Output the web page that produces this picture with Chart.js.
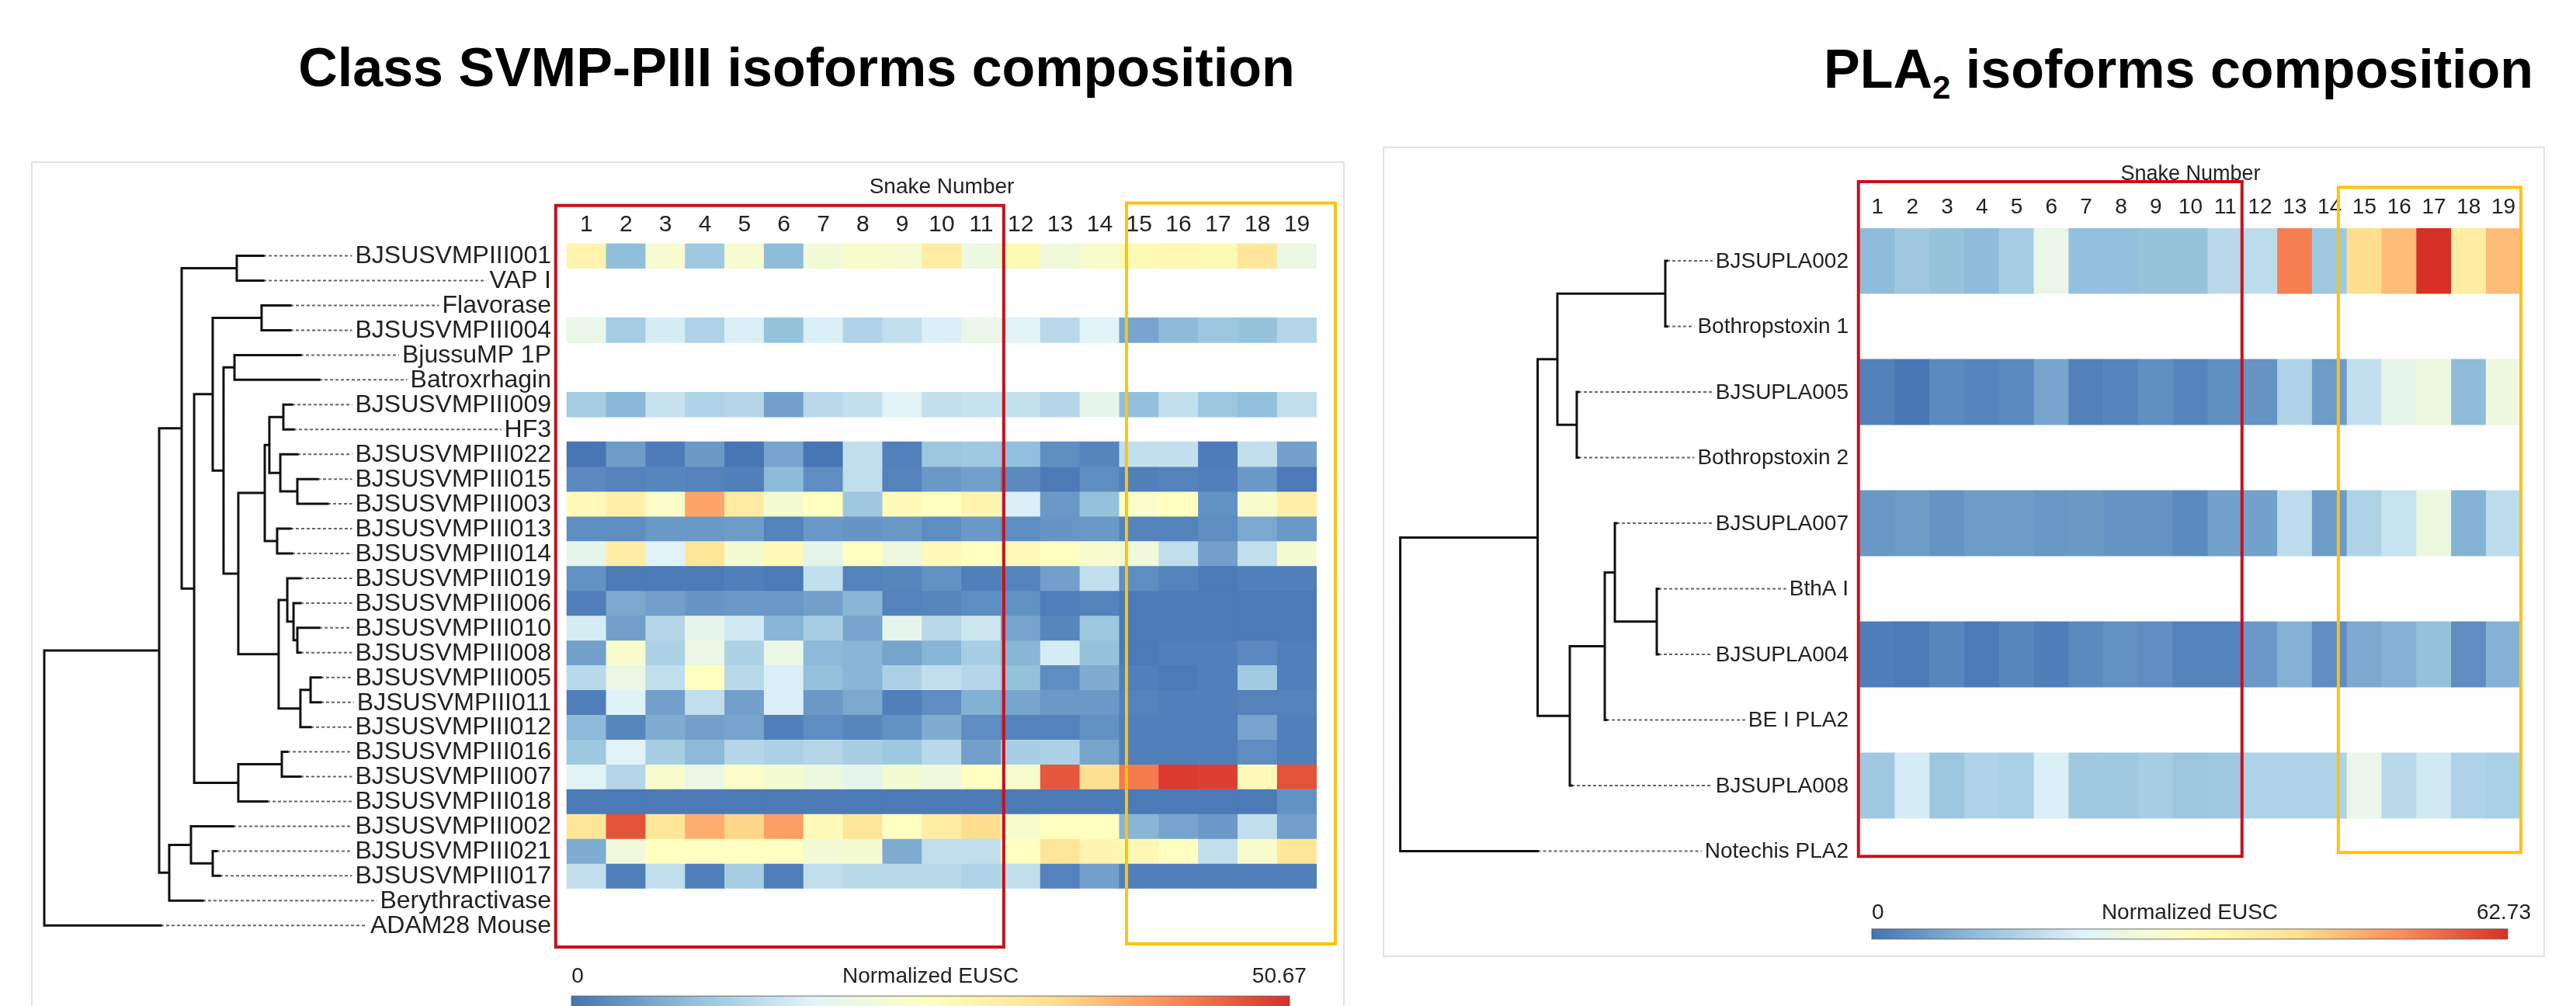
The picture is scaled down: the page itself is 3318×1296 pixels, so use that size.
<!DOCTYPE html>
<html>
<head>
<meta charset="utf-8">
<title>SVMP-PIII and PLA2 isoforms composition</title>
<script src="https://cdn.jsdelivr.net/npm/chart.js@4/dist/chart.umd.min.js"></script>
<style>
  html, body { margin: 0; padding: 0; background: #fff; }
  body { width: 3318px; height: 1296px; position: relative; overflow: hidden;
         font-family: "Liberation Sans", Arial, Helvetica, sans-serif; }
  .panel { position: absolute; border: 2px solid #e2e2e2; box-sizing: border-box; background: #fff; }
  .title { position: absolute; font-weight: bold; font-size: 70px; line-height: 70px; white-space: nowrap; color: #000; }
  .title .sub { font-size: 42px; position: relative; top: 14px; }
  canvas { position: absolute; left: 0; top: 0; }
</style>
</head>
<body>
<div class="panel" style="left:40px;top:208px;width:1692px;height:1200px;"></div>
<div class="panel" style="left:1781px;top:189px;width:1497px;height:1044px;"></div>
<div class="title" style="left:0;width:2052px;text-align:center;top:52px;">Class SVMP-PIII isoforms composition</div>
<div class="title" style="left:2349px;top:54px;">PLA<span class="sub">2</span> isoforms composition</div>
<canvas id="svmpChart" width="3318" height="1296" style="width:3318px;height:1296px;"></canvas>
<canvas id="plaChart" width="3318" height="1296" style="width:3318px;height:1296px;"></canvas>
<script>
// ---------- data ----------
const snakes = [1, 2, 3, 4, 5, 6, 7, 8, 9, 10, 11, 12, 13, 14, 15, 16, 17, 18, 19];

const svmpRows = ['BJSUSVMPIII001', 'VAP I', 'Flavorase', 'BJSUSVMPIII004', 'BjussuMP 1P', 'Batroxrhagin',
  'BJSUSVMPIII009', 'HF3', 'BJSUSVMPIII022', 'BJSUSVMPIII015', 'BJSUSVMPIII003', 'BJSUSVMPIII013',
  'BJSUSVMPIII014', 'BJSUSVMPIII019', 'BJSUSVMPIII006', 'BJSUSVMPIII010', 'BJSUSVMPIII008',
  'BJSUSVMPIII005', 'BJSUSVMPIII011', 'BJSUSVMPIII012', 'BJSUSVMPIII016', 'BJSUSVMPIII007',
  'BJSUSVMPIII018', 'BJSUSVMPIII002', 'BJSUSVMPIII021', 'BJSUSVMPIII017', 'Berythractivase', 'ADAM28 Mouse'];
const svmpMax = 50.67;

// Normalized EUSC per snake (1..19)
const svmp001 = [28.4, 8.4, 22.8, 10.1, 22.8, 8.1, 21.8, 23.3, 22.8, 30.4, 20.3, 26.9, 21.3, 23.3, 26.9, 27.4, 26.9, 31.9, 19.8];
const svmp004 = [19.3, 10.6, 15.7, 11.7, 16.2, 9.1, 16.2, 11.7, 13.7, 16.2, 19.3, 17.2, 12.7, 17.2, 5.6, 7.9, 9.6, 9.1, 12.2];
const svmp009 = [10.6, 7.6, 14.2, 11.7, 12.2, 5.1, 12.7, 13.7, 17.2, 13.7, 14.2, 13.9, 12.2, 18.7, 8.6, 13.7, 9.6, 8.6, 13.7];
const svmp022 = [0.3, 4.6, 1.0, 4.3, 0.3, 5.6, 0.3, 13.7, 1.5, 9.6, 10.1, 8.6, 3.0, 2.0, 13.7, 13.7, 1.0, 13.7, 5.1];
const svmp015 = [2.5, 1.7, 2.1, 1.7, 1.3, 7.9, 2.9, 13.5, 1.7, 4.2, 5.0, 2.5, 0.8, 2.9, 1.3, 1.7, 1.3, 4.2, 0.8];
const svmp003 = [26.7, 29.4, 24.0, 39.9, 30.8, 22.6, 25.3, 9.8, 26.7, 25.3, 28.0, 16.2, 4.2, 8.8, 24.0, 25.3, 3.3, 23.3, 29.4];
const svmp013 = [2.9, 2.9, 4.2, 4.2, 4.6, 1.7, 4.2, 3.8, 4.2, 2.9, 4.2, 2.9, 3.8, 4.2, 1.7, 1.7, 2.9, 5.9, 4.2];
const svmp014 = [18.6, 30.1, 17.2, 32.1, 22.6, 26.7, 18.6, 25.3, 20.6, 26.7, 25.3, 26.7, 25.3, 23.3, 21.3, 13.5, 5.0, 13.5, 22.6];
const svmp019 = [3.3, 0.8, 0.8, 0.8, 1.3, 0.8, 13.5, 1.7, 2.1, 3.3, 1.3, 1.7, 5.0, 13.5, 2.9, 1.7, 0.8, 1.3, 1.3];
const svmp006 = [1.3, 5.9, 5.0, 3.8, 4.2, 4.2, 5.0, 7.4, 1.7, 2.1, 2.9, 3.3, 1.3, 1.7, 0.8, 0.8, 0.8, 0.8, 0.8];
const svmp010 = [15.8, 5.0, 12.2, 18.6, 15.3, 7.4, 10.8, 5.5, 18.6, 12.6, 14.9, 5.5, 2.1, 9.8, 0.8, 0.8, 0.8, 0.8, 0.8];
const svmp008 = [5.0, 23.3, 11.3, 19.9, 11.3, 19.9, 7.9, 7.4, 5.5, 7.4, 10.8, 7.4, 15.8, 8.8, 0.8, 1.3, 1.3, 2.5, 1.3];
const svmp005 = [12.6, 19.9, 13.5, 25.3, 12.6, 16.2, 8.8, 7.4, 11.3, 13.5, 12.2, 8.8, 2.9, 6.4, 1.3, 0.8, 1.3, 10.3, 1.3];
const svmp011 = [1.3, 16.7, 5.0, 13.5, 5.0, 16.2, 4.2, 5.9, 1.3, 2.9, 6.9, 5.5, 4.2, 4.2, 1.7, 1.3, 1.3, 1.7, 1.7];
const svmp012 = [7.9, 2.1, 6.4, 5.0, 5.5, 1.3, 2.9, 2.1, 3.3, 6.4, 2.9, 1.7, 1.7, 3.3, 1.3, 1.3, 1.3, 5.5, 1.3];
const svmp016 = [9.8, 17.2, 10.8, 7.9, 12.2, 11.3, 12.2, 10.8, 9.8, 12.6, 5.0, 10.8, 11.3, 5.5, 1.3, 1.3, 1.3, 2.9, 1.3];
const svmp007 = [17.2, 12.2, 23.3, 19.9, 24.0, 22.6, 20.6, 18.6, 22.6, 21.3, 25.3, 23.3, 47.1, 33.5, 43.9, 49.8, 49.3, 26.7, 47.6];
const svmp018 = [0.8, 0.8, 0.8, 0.8, 0.8, 0.8, 0.8, 0.8, 0.8, 0.8, 0.8, 0.8, 0.8, 0.8, 0.8, 0.8, 0.8, 0.8, 3.3];
const svmp002 = [32.1, 47.6, 32.1, 38.9, 34.8, 40.4, 26.7, 32.1, 25.3, 30.1, 34.0, 23.3, 25.3, 25.3, 7.4, 5.5, 4.2, 13.5, 5.0];
const svmp021 = [6.4, 21.3, 25.3, 25.3, 25.3, 25.3, 22.0, 22.6, 6.4, 13.5, 13.5, 25.3, 32.1, 28.0, 27.4, 25.3, 13.5, 23.3, 32.1];
const svmp017 = [13.5, 1.3, 13.5, 1.3, 10.8, 1.3, 13.5, 12.6, 12.6, 12.6, 11.7, 13.5, 1.7, 5.0, 1.3, 1.3, 1.3, 1.3, 1.3];

const plaRows = ['BJSUPLA002', 'Bothropstoxin 1', 'BJSUPLA005', 'Bothropstoxin 2', 'BJSUPLA007',
  'BthA I', 'BJSUPLA004', 'BE I PLA2', 'BJSUPLA008', 'Notechis PLA2'];
const plaMax = 62.73;

const pla002 = [10.0, 12.5, 11.3, 10.0, 13.2, 23.8, 10.7, 10.7, 11.3, 11.3, 15.7, 16.3, 53.9, 12.5, 42.0, 46.4, 62.73, 37.6, 46.4];
const pla005 = [1.9, 0.6, 3.1, 2.5, 3.1, 6.9, 1.9, 2.5, 3.8, 2.5, 3.8, 4.4, 14.4, 5.6, 16.9, 23.2, 25.7, 10.0, 25.7];
const pla007 = [5.0, 5.6, 4.4, 5.6, 5.6, 5.0, 5.3, 4.4, 4.4, 3.1, 6.3, 6.3, 16.3, 5.6, 14.4, 17.6, 25.7, 8.8, 16.3];
const pla004 = [1.5, 1.0, 2.6, 1.0, 2.6, 1.5, 3.1, 4.1, 3.6, 2.1, 2.1, 5.2, 8.6, 3.6, 7.4, 8.6, 10.9, 3.6, 8.6];
const pla008 = [12.5, 19.5, 11.9, 14.4, 13.8, 20.1, 12.5, 12.5, 13.2, 11.9, 12.5, 14.4, 14.4, 14.4, 23.8, 15.7, 18.8, 14.4, 13.8];

// ---------- dendrograms (node depth from the root, leaf tip depth) ----------
function n(d, ...kids) { return { d, kids }; }
function leaf(label, d) { return { label, d }; }

const svmpTree = n(0,
  n(0.0903,
    n(0.1080,
      n(0.1513, leaf('BJSUSVMPIII001', 0.1721), leaf('VAP I', 0.1721)),
      n(0.1178,
        n(0.1324,
          n(0.1708, leaf('Flavorase', 0.1934), leaf('BJSUSVMPIII004', 0.1934)),
          n(0.1409,
            n(0.1495, leaf('BjussuMP 1P', 0.2013), leaf('Batroxrhagin', 0.2160)),
            n(0.1525,
              n(0.1733,
                n(0.1769,
                  n(0.1879, leaf('BJSUSVMPIII009', 0.1946), leaf('HF3', 0.1959)),
                  n(0.1855, leaf('BJSUSVMPIII022', 0.1989),
                    n(0.1989, leaf('BJSUSVMPIII015', 0.2148), leaf('BJSUSVMPIII003', 0.2227)))),
                n(0.1830, leaf('BJSUSVMPIII013', 0.1934), leaf('BJSUSVMPIII014', 0.1946))),
              n(0.1842,
                n(0.1910, leaf('BJSUSVMPIII019', 0.2013),
                  n(0.1959, leaf('BJSUSVMPIII006', 0.2013),
                    n(0.1989, leaf('BJSUSVMPIII010', 0.2160), leaf('BJSUSVMPIII008', 0.2013)))),
                n(0.2013,
                  n(0.2093, leaf('BJSUSVMPIII005', 0.2172), leaf('BJSUSVMPIII011', 0.2172)),
                  leaf('BJSUSVMPIII012', 0.2093)))))),
        n(0.1525,
          n(0.1867, leaf('BJSUSVMPIII016', 0.1910), leaf('BJSUSVMPIII007', 0.2013)),
          leaf('BJSUSVMPIII018', 0.1751)))),
    n(0.0982,
      n(0.1153, leaf('BJSUSVMPIII002', 0.1483),
        n(0.1324, leaf('BJSUSVMPIII021', 0.1354), leaf('BJSUSVMPIII017', 0.1379))),
      leaf('Berythractivase', 0.1245))),
  leaf('ADAM28 Mouse', 0.0915));

const plaTree = n(0,
  n(0.1226,
    n(0.1402,
      n(0.2365, leaf('BJSUPLA002', 0.2379), leaf('Bothropstoxin 1', 0.2379)),
      n(0.1575, leaf('BJSUPLA005', 0.1589), leaf('Bothropstoxin 2', 0.1589))),
    n(0.1513,
      n(0.1825,
        n(0.1915, leaf('BJSUPLA007', 0.1929),
          n(0.2289, leaf('BthA I', 0.2303), leaf('BJSUPLA004', 0.2303))),
        leaf('BE I PLA2', 0.1839)),
      leaf('BJSUPLA008', 0.1527))),
  leaf('Notechis PLA2', 0.1226));

// ---------- helpers ----------
const FONT = '"Liberation Sans", Arial, Helvetica, sans-serif';
const RAMP = ['#4473b3', '#91bfdb', '#e0f3f8', '#ffffbf', '#fee090', '#fc8d59', '#d73027'];

function hexRgb(h) { return [1, 3, 5].map(i => parseInt(h.substr(i, 2), 16)); }
const RAMP_RGB = RAMP.map(hexRgb);

function colorFor(v, max) {
  const t = Math.max(0, Math.min(1, v / max)) * (RAMP.length - 1);
  const i = Math.min(Math.floor(t), RAMP.length - 2);
  const f = t - i;
  const a = RAMP_RGB[i], b = RAMP_RGB[i + 1];
  const c = a.map((x, k) => Math.round(x + (b[k] - x) * f));
  return `rgb(${c[0]},${c[1]},${c[2]})`;
}

// rectangular dendrogram: vertical joins + horizontal branches, null breaks between segments
function treeSegments(tree, rows, tips) {
  const pts = [];
  function walk(nd) {
    if (nd.label !== undefined) {
      nd.y = rows.indexOf(nd.label);
      tips[nd.label] = nd.d;
      return nd.y;
    }
    const ys = nd.kids.map(walk);
    const lo = Math.min(...ys), hi = Math.max(...ys);
    nd.y = (lo + hi) / 2;
    pts.push({ x: nd.d, y: lo }, { x: nd.d, y: hi }, { x: nd.d, y: null });
    nd.kids.forEach(k => pts.push({ x: nd.d, y: k.y }, { x: k.d, y: k.y }, { x: k.d, y: null }));
    return nd.y;
  }
  walk(tree);
  return pts;
}

function heatDatasets(rows, lookup, max) {
  const out = [];
  rows.forEach((name, r) => {
    const vals = lookup[name];
    if (!vals) return;
    out.push({
      type: 'bar', label: name, xAxisID: 'x', yAxisID: 'y',
      grouped: false, barPercentage: 1, categoryPercentage: 1, borderWidth: 0,
      data: vals.map((v, i) => ({ x: snakes[i], y: [r - 0.5, r + 0.5], v })),
      backgroundColor: c => colorFor(c.raw ? c.raw.v : 0, max)
    });
  });
  return out;
}

function decorPlugin(p) {
  return {
    id: 'decor_' + p.key,
    beforeDatasetsDraw(chart) {
      const ctx = chart.ctx, xs = chart.scales.x, ys = chart.scales.y, xt = chart.scales.xt;
      const area = chart.chartArea;
      ctx.save();
      // isoform names with dotted leaders back to the tree tips
      ctx.font = `${p.labelFont}px ${FONT}`;
      ctx.textAlign = 'right';
      ctx.textBaseline = 'middle';
      p.rows.forEach((name, i) => {
        const y = ys.getPixelForValue(i);
        const w = ctx.measureText(name).width;
        ctx.fillStyle = '#222';
        ctx.fillText(name, p.labelRight, y + 1);
        ctx.beginPath();
        ctx.setLineDash([4, 3]);
        ctx.lineWidth = 2;
        ctx.strokeStyle = '#666';
        ctx.moveTo(xt.getPixelForValue(p.tips[name]), y);
        ctx.lineTo(p.labelRight - w - 4, y);
        ctx.stroke();
      });
      ctx.setLineDash([]);
      // snake numbers and their heading
      ctx.font = `${p.colFont}px ${FONT}`;
      ctx.textAlign = 'center';
      ctx.fillStyle = '#222';
      snakes.forEach(s => ctx.fillText(String(s), xs.getPixelForValue(s), area.top + p.colLabelDy));
      ctx.font = `${p.headFont}px ${FONT}`;
      ctx.fillText('Snake Number', (xs.getPixelForValue(0.5) + xs.getPixelForValue(19.5)) / 2, area.top + p.headDy);
      ctx.restore();
    },
    afterDatasetsDraw(chart) {
      const ctx = chart.ctx, xs = chart.scales.x, ys = chart.scales.y;
      const area = chart.chartArea;
      ctx.save();
      // highlighted snake groups
      [[p.redBox, '#c8101a'], [p.yellowBox, '#ffc20e']].forEach(([b, col]) => {
        const x0 = xs.getPixelForValue(b[0]), x1 = xs.getPixelForValue(b[1]);
        const y0 = ys.getPixelForValue(b[2]), y1 = ys.getPixelForValue(b[3]);
        ctx.strokeStyle = col;
        ctx.lineWidth = 4;
        ctx.strokeRect(x0, y0, x1 - x0, y1 - y0);
      });
      // colour key
      const bx0 = xs.getPixelForValue(p.key0), bx1 = xs.getPixelForValue(p.key1);
      const by = area.bottom + p.keyBarDy;
      const g = ctx.createLinearGradient(bx0, 0, bx1, 0);
      RAMP.forEach((c, i) => g.addColorStop(i / (RAMP.length - 1), c));
      ctx.fillStyle = g;
      ctx.fillRect(bx0, by, bx1 - bx0, p.keyBarH);
      ctx.strokeStyle = 'rgba(80,80,80,0.55)';
      ctx.lineWidth = 1.5;
      ctx.strokeRect(bx0, by, bx1 - bx0, p.keyBarH);
      ctx.font = `${p.keyFont}px ${FONT}`;
      ctx.fillStyle = '#222';
      ctx.textBaseline = 'middle';
      const ly = area.bottom + p.keyLabelDy;
      ctx.textAlign = 'left';
      ctx.fillText('0', bx0, ly);
      ctx.textAlign = 'center';
      ctx.fillText('Normalized EUSC', (bx0 + bx1) / 2, ly);
      ctx.textAlign = 'right';
      ctx.fillText(p.maxText, bx1 + p.maxDx, ly);
      ctx.restore();
    }
  };
}

function buildChart(canvasId, p) {
  const tips = {};
  const treePts = treeSegments(p.tree, p.rows, tips);
  p.tips = tips;
  const datasets = [
    {
      type: 'line', label: 'tree', xAxisID: 'xt', yAxisID: 'y', data: treePts,
      borderColor: '#111', borderWidth: 3, pointRadius: 0, spanGaps: false,
      tension: 0, fill: false, clip: false, borderCapStyle: 'square'
    },
    ...heatDatasets(p.rows, p.lookup, p.max)
  ];
  return new Chart(document.getElementById(canvasId), {
    type: 'bar',
    data: { datasets },
    options: {
      responsive: false, animation: false, devicePixelRatio: 1, events: [],
      layout: { padding: { left: p.area.left, right: 3318 - p.area.right, top: p.area.top, bottom: 1296 - p.area.bottom } },
      plugins: { legend: { display: false }, tooltip: { enabled: false }, title: { display: false } },
      scales: {
        x: { type: 'linear', min: p.xMin, max: 19.5, offset: false, display: false, grid: { offset: false } },
        xt: { type: 'linear', axis: 'x', min: 0, max: 1, offset: false, display: false },
        y: { type: 'linear', min: -0.5, max: p.rows.length - 0.5, reverse: true, display: false }
      }
    },
    plugins: [decorPlugin(p)]
  });
}

const svmpLookup = {
  'BJSUSVMPIII001': svmp001, 'BJSUSVMPIII004': svmp004, 'BJSUSVMPIII009': svmp009, 'BJSUSVMPIII022': svmp022,
  'BJSUSVMPIII015': svmp015, 'BJSUSVMPIII003': svmp003, 'BJSUSVMPIII013': svmp013, 'BJSUSVMPIII014': svmp014,
  'BJSUSVMPIII019': svmp019, 'BJSUSVMPIII006': svmp006, 'BJSUSVMPIII010': svmp010, 'BJSUSVMPIII008': svmp008,
  'BJSUSVMPIII005': svmp005, 'BJSUSVMPIII011': svmp011, 'BJSUSVMPIII012': svmp012, 'BJSUSVMPIII016': svmp016,
  'BJSUSVMPIII007': svmp007, 'BJSUSVMPIII018': svmp018, 'BJSUSVMPIII002': svmp002, 'BJSUSVMPIII021': svmp021,
  'BJSUSVMPIII017': svmp017
};
const plaLookup = { 'BJSUPLA002': pla002, 'BJSUPLA005': pla005, 'BJSUPLA007': pla007, 'BJSUPLA004': pla004, 'BJSUPLA008': pla008 };

buildChart('svmpChart', {
  key: 'svmp', rows: svmpRows, lookup: svmpLookup, tree: svmpTree, max: svmpMax, maxText: '50.67',
  area: { left: 57, right: 1696, top: 313.6, bottom: 1208.2 }, xMin: -12.738,
  labelRight: 710, labelFont: 32, colFont: 30, colLabelDy: -24, headFont: 28, headDy: -72,
  redBox: [0.22, 11.57, -2.03, 27.87], yellowBox: [14.68, 19.97, -2.13, 27.74],
  key0: 0.62, key1: 18.81, keyBarDy: 75, keyBarH: 14, keyLabelDy: 50, keyFont: 28, maxDx: 22
});

buildChart('plaChart', {
  key: 'pla', rows: plaRows, lookup: plaLookup, tree: plaTree, max: plaMax, maxText: '62.73',
  area: { left: 1803.6, right: 3247, top: 293.75, bottom: 1138.75 }, xMin: -12.726,
  labelRight: 2381, labelFont: 28, colFont: 28, colLabelDy: -26, headFont: 27, headDy: -69,
  redBox: [0.45, 11.48, -1.207, 9.08], yellowBox: [14.25, 19.5, -1.12, 9.02],
  key0: 0.835, key1: 19.12, keyBarDy: 58, keyBarH: 13, keyLabelDy: 38, keyFont: 28, maxDx: 30
});
</script>
</body>
</html>
